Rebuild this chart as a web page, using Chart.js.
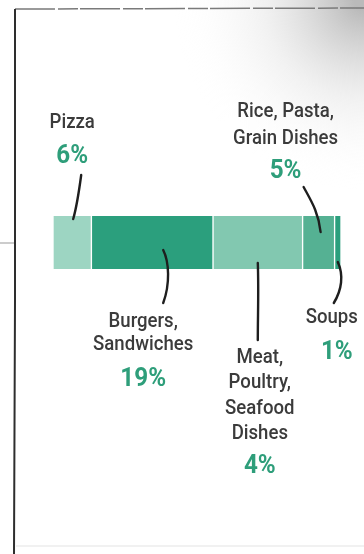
<!DOCTYPE html>
<html lang="en">
<head>
<meta charset="UTF-8">
<title>Food categories</title>
<script src="https://cdn.jsdelivr.net/npm/chart.js"></script>
<style>
  html, body { margin: 0; padding: 0; background: #fff; }
  #wrap { position: relative; width: 364px; height: 554px; }
</style>
</head>
<body>
<div id="wrap"><canvas id="chart" width="364" height="554"></canvas></div>
<script>
// data
const categories = ['Pizza', 'Burgers, Sandwiches', 'Meat, Poultry, Seafood Dishes', 'Rice, Pasta, Grain Dishes', 'Soups'];
const shares = [6, 19, 14, 5, 1];               // bar lengths
const shareLabels = ['6%', '19%', '4%', '5%', '1%']; // printed numbers
const labelLines = [['Pizza'], ['Burgers,', 'Sandwiches'], ['Meat,', 'Poultry,', 'Seafood', 'Dishes'], ['Rice, Pasta,', 'Grain Dishes'], ['Soups']];
const colors = ['#9dd5c2', '#2b9f7d', '#82c8b0', '#55b193', '#2b9f7d'];

// where each callout sits, relative to its segment centre / bar edge
const callouts = [
  { dx: 0, textY: 123, pctY: 157, pctDx: 0, line: [[9, 175], [7, 190], [5, 205], [1, 219]] },
  { dx: -9, textY: 322, pctY: 380, pctDx: 0, line: [[11, 250], [17, 262], [18, 284], [11, 303]] },
  { dx: 2, textY: 358, pctY: 467, pctDx: 0, line: [[0, 263], [1, 290], [0, 315], [0, 340]] },
  { dx: -33, textY: 112, pctY: 172, pctDx: 0, line: [[-15, 187], [-8, 200], [0, 212], [2, 232]] },
  { dx: -6, textY: 318, pctY: 353, pctDx: 5, line: [[0, 262], [6, 275], [4, 290], [-4, 303]] }
];

const datasets = categories.map((c, i) => ({
  label: c,
  data: [shares[i]],
  backgroundColor: colors[i],
  borderColor: '#ffffff',
  borderWidth: { left: 1, right: 1, top: 0, bottom: 0 },
  borderSkipped: false,
  barPercentage: 1,
  categoryPercentage: 1
}));

function condensedText(ctx, str, x, y, font, color, sx) {
  ctx.save();
  ctx.font = font;
  ctx.fillStyle = color;
  ctx.textAlign = 'center';
  ctx.textBaseline = 'middle';
  ctx.translate(x, y);
  ctx.scale(sx, 1);
  ctx.fillText(str, 0, 0);
  ctx.restore();
}

const framePlugin = {
  id: 'frame',
  beforeDraw(chart) {
    const ctx = chart.ctx;
    ctx.save();
    // photo shading top right
    const g = ctx.createRadialGradient(364, 0, 10, 364, 0, 190);
    g.addColorStop(0, 'rgba(140,140,140,0.6)');
    g.addColorStop(0.5, 'rgba(200,200,200,0.25)');
    g.addColorStop(1, 'rgba(255,255,255,0)');
    ctx.fillStyle = g;
    ctx.fillRect(0, 0, 364, 200);
    // sketch frame
    ctx.strokeStyle = '#7a7a7a';
    ctx.lineWidth = 1.5;
    ctx.setLineDash([40, 3, 20, 2]);
    ctx.beginPath();
    ctx.moveTo(15, 9); ctx.lineTo(364, 8);
    ctx.stroke();
    ctx.setLineDash([]);
    ctx.strokeStyle = '#ededed';
    ctx.beginPath();
    ctx.moveTo(16, 546); ctx.lineTo(364, 546);
    ctx.stroke();
    ctx.strokeStyle = '#2e2e2e';
    ctx.lineWidth = 2;
    ctx.beginPath();
    ctx.moveTo(15, 9); ctx.lineTo(15, 300); ctx.lineTo(14, 554);
    ctx.stroke();
    ctx.strokeStyle = '#999';
    ctx.lineWidth = 1;
    ctx.beginPath();
    ctx.moveTo(0, 243); ctx.lineTo(14, 243);
    ctx.stroke();
    ctx.restore();
  },
  afterDraw(chart) {
    const ctx = chart.ctx;
    callouts.forEach((c, i) => {
      const bar = chart.getDatasetMeta(i).data[0];
      const cx = (bar.base + bar.x) / 2;
      const tx = cx + c.dx;
      // leader
      ctx.save();
      ctx.strokeStyle = '#1e1e1e';
      ctx.lineWidth = 2.4;
      ctx.lineCap = 'round';
      ctx.beginPath();
      const p = c.line;
      ctx.moveTo(cx + p[0][0], p[0][1]);
      ctx.bezierCurveTo(cx + p[1][0], p[1][1], cx + p[2][0], p[2][1], cx + p[3][0], p[3][1]);
      ctx.stroke();
      ctx.restore();
      // label text
      labelLines[i].forEach((ln, k) => {
        const lh = labelLines[i].length > 2 ? 25.3 : (i === 3 ? 27 : 23);
        condensedText(ctx, ln, tx, c.textY + k * lh, '500 20px Roboto', '#3b3b3b', 0.93);
      });
      condensedText(ctx, shareLabels[i], tx + c.pctDx, c.pctY, 'bold 25px Roboto', '#2e9e7a', 0.97);
    });
  }
};

new Chart(document.getElementById('chart'), {
  type: 'bar',
  data: { labels: ['Share'], datasets: datasets },
  options: {
    indexAxis: 'y',
    responsive: false,
    animation: false,
    layout: { padding: { left: 53, right: 23, top: 216, bottom: 285 } },
    scales: {
      x: { stacked: true, display: false, min: 0, max: shares.reduce((a, b) => a + b, 0) },
      y: { stacked: true, display: false }
    },
    plugins: { legend: { display: false }, tooltip: { enabled: false } }
  },
  plugins: [framePlugin]
});
</script>
</body>
</html>
